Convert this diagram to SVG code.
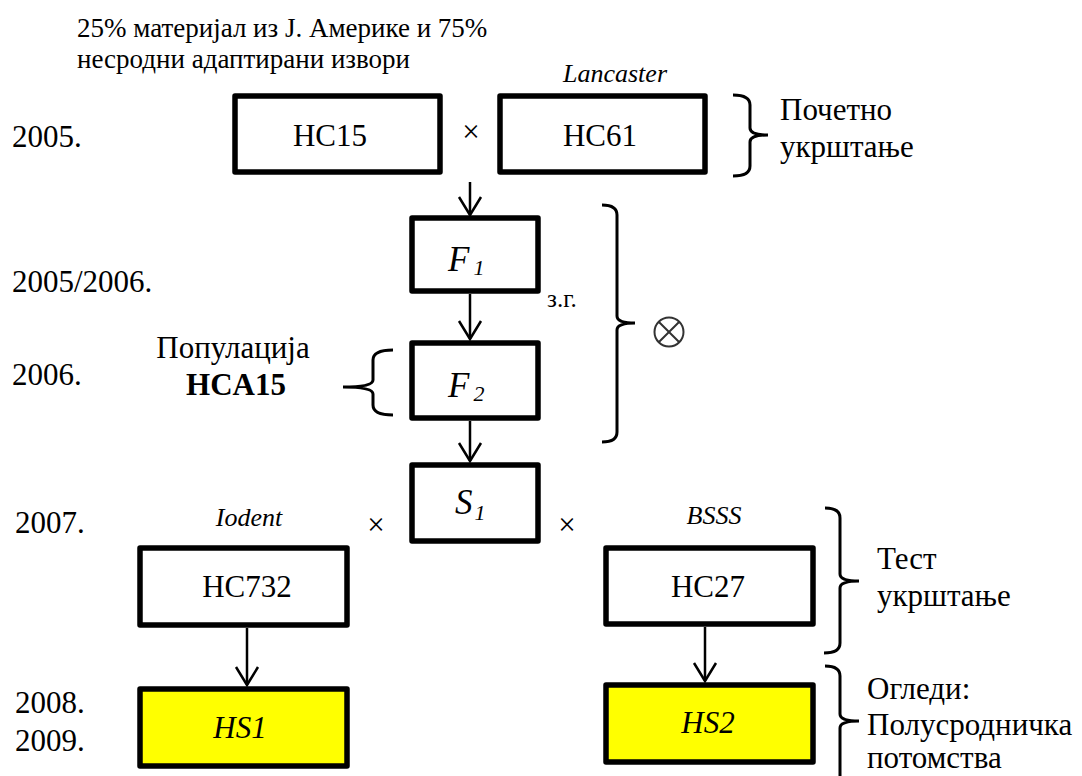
<svg xmlns="http://www.w3.org/2000/svg" width="1082" height="776" viewBox="0 0 1082 776">
<style>
text{font-family:"Liberation Serif","Times New Roman",serif;fill:#000}
.big{font-size:31px}
.mid{font-size:26px}
.top{font-size:27px}
.it{font-style:italic}
.b{font-weight:bold}
.mid-a{text-anchor:middle}
.box{fill:#fff;stroke:#000;stroke-width:5.5;stroke-linejoin:round}
.hs{fill:#ffff00}
.br{fill:none;stroke:#000;stroke-width:3}
.ln{fill:none;stroke:#000;stroke-width:2.5;marker-end:url(#ah)}
.ot{fill:none;stroke:#333;stroke-width:2}
</style>
<defs>
<marker id="ah" markerUnits="userSpaceOnUse" viewBox="-20 -12 22 24" markerWidth="22" markerHeight="24" refX="0" refY="0" orient="auto" overflow="visible">
<path d="M-18,-11 L0,0 L-18,11" fill="none" stroke="#000" stroke-width="2.5" stroke-linejoin="miter"/>
</marker>
</defs>
<rect width="1082" height="776" fill="#fff"/>

<g id="labels">
<text class="top" x="77" y="37">25% материјал из J. Америке и 75%</text>
<text class="top" x="77" y="68">несродни адаптирани извори</text>
<text class="big" x="12" y="147">2005.</text>
<text class="big" x="12" y="292">2005/2006.</text>
<text class="big" x="12" y="385">2006.</text>
<text class="big" x="15" y="533">2007.</text>
<text class="big" x="15" y="713">2008.</text>
<text class="big" x="15" y="751">2009.</text>
<text class="mid it mid-a" x="615" y="82">Lancaster</text>
<text class="mid it mid-a" x="249" y="526">Iodent</text>
<text class="mid it mid-a" x="714" y="524">BSSS</text>
<text class="big mid-a" x="471" y="142">×</text>
<text class="big mid-a" x="376" y="535">×</text>
<text class="big mid-a" x="567" y="535">×</text>
<text x="547" y="307" font-size="25">з.г.</text>
<text class="big mid-a" x="233" y="358">Популација</text>
<text class="big b mid-a" x="236" y="395">HCA15</text>
<text class="big" x="780" y="120">Почетно</text>
<text class="big" x="780" y="157">укрштање</text>
<text class="big" x="877" y="569">Тест</text>
<text class="big" x="877" y="606">укрштање</text>
<text class="big" x="867" y="699">Огледи:</text>
<text class="big" x="867" y="735">Полусродничка</text>
<text class="big" x="867" y="768">потомства</text>
</g>

<g id="selfing">
<circle class="ot" cx="669" cy="332" r="14.5"/>
<path class="ot" d="M658.7,321.7 L679.3,342.3 M679.3,321.7 L658.7,342.3"/>
</g>

<g id="braces">
<path class="br" d="M733,95 Q750,95 750,105 V128 Q750,135 768,135 Q750,135 750,142 V166 Q750,176 733,176"/>
<path class="br" d="M602,205 Q617,205 617,215 V316 Q617,323 635,323 Q617,323 617,330 V432 Q617,442 602,442"/>
<path class="br" d="M393,350 Q373,350 373,360 V380 Q373,387 343,387 Q373,387 373,394 V405 Q373,415 393,415"/>
<path class="br" d="M825,508 Q840,508 840,518 V574 Q840,581 859,581 Q840,581 840,588 V643 Q840,653 824,653"/>
<path class="br" d="M825,666 Q840,666 840,676 V714 Q840,721 859,721 Q840,721 840,728 V790"/>
</g>

<g id="connectors">
<path class="ln" d="M470,182 V215"/>
<path class="ln" d="M470,294 V339"/>
<path class="ln" d="M470,421 V461"/>
<path class="ln" d="M247,628 V685"/>
<path class="ln" d="M705,627 V681"/>
</g>

<g id="node-hc15"><rect class="box" x="235" y="96" width="205" height="76"/><text class="big mid-a" x="330" y="146">HC15</text></g>
<g id="node-hc61"><rect class="box" x="500" y="96" width="205" height="76"/><text class="big mid-a" x="600" y="146">HC61</text></g>
<g id="node-f1"><rect class="box" x="412" y="218" width="126" height="73"/><text class="it" x="448" y="271" font-size="35">F<tspan dx="4" dy="4" font-size="22">1</tspan></text></g>
<g id="node-f2"><rect class="box" x="412" y="343" width="126" height="75"/><text class="it" x="448" y="397" font-size="35">F<tspan dx="4" dy="4" font-size="22">2</tspan></text></g>
<g id="node-s1"><rect class="box" x="412" y="465" width="126" height="76"/><text class="it" x="455" y="514" font-size="35">S<tspan dx="2" dy="6" font-size="22">1</tspan></text></g>
<g id="node-hc732"><rect class="box" x="140" y="548" width="207" height="77"/><text class="big mid-a" x="247" y="597">HC732</text></g>
<g id="node-hc27"><rect class="box" x="606" y="548" width="207" height="76"/><text class="big mid-a" x="708" y="597">HC27</text></g>
<g id="node-hs1"><rect class="box hs" x="140" y="689" width="207" height="77"/><text class="big it mid-a" x="240" y="738">HS1</text></g>
<g id="node-hs2"><rect class="box hs" x="606" y="685" width="207" height="77"/><text class="big it mid-a" x="708" y="733">HS2</text></g>
</svg>
